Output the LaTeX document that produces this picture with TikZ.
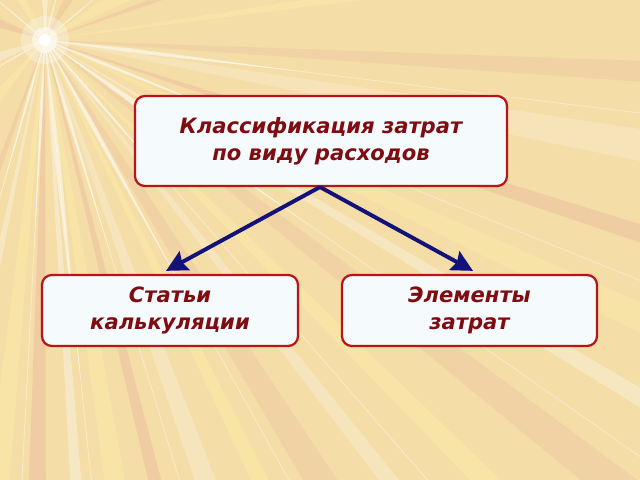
\documentclass[tikz,border=0pt]{standalone}
\usepackage{fontspec}
\setmainfont{DejaVu Sans}
\usetikzlibrary{arrows.meta}
\definecolor{bgsand}{HTML}{F4DDA6}
\definecolor{boxred}{HTML}{B8141A}
\definecolor{textred}{HTML}{7E0C10}
\definecolor{boxfill}{HTML}{F5FAFC}
\definecolor{arrownavy}{HTML}{12127A}
\definecolor{raypink}{HTML}{E6A89C}
\definecolor{rayyellow}{HTML}{FFF0A8}
\begin{document}
\begin{tikzpicture}[x=0.025cm,y=-0.025cm]
        \tikzstyle{every node}=[font=\bfseries\itshape\fontsize{15}{19.5}\selectfont, text=textred, align=center]
        \tikzstyle{block}=[draw=boxred, line width=1.6pt, fill=boxfill, rounded corners=7pt, inner sep=0pt]
        \tikzstyle{link}=[draw=arrownavy, line width=2.8pt, -{Stealth[length=15pt,width=15pt,inset=2pt]}]
        \fill[bgsand] (0,0) rectangle (640,480);
        \clip (0,0) rectangle (640,480);
        % rays from the flare
        \begin{scope}[shift={(45,40)}]
        \foreach \a/\w/\c/\o in {-20/1.2/raypink/0.25, -8/0.8/rayyellow/0.4, 3/1.0/raypink/0.2, 10/1.5/white/0.2,
            18/0.8/raypink/0.3, 25/1.2/rayyellow/0.35, 31/0.7/white/0.3, 38/1.4/raypink/0.2, 45/1.0/rayyellow/0.4,
            52/0.8/white/0.25, 58/1.6/raypink/0.2, 64/0.9/rayyellow/0.45, 70/1.2/white/0.25, 76/0.8/raypink/0.3,
            81/1.3/rayyellow/0.4, 86/0.7/white/0.35, 91/1.1/raypink/0.3, 96/1.4/rayyellow/0.4, 102/0.8/white/0.3,
            110/1.2/raypink/0.25, 130/4/rayyellow/0.4, 160/5/white/0.3, 200/5/raypink/0.3, 240/5/rayyellow/0.4,
            270/4/white/0.4, 300/5/raypink/0.25, 330/5/rayyellow/0.4}
            \fill[\c, opacity=\o] (0,0) -- (\a-\w:1500) -- (\a+\w:1500) -- cycle;
        \foreach \a/\r in {7/260,22/200,35/320,49/180,61/280,73/220,84/340,93/200,106/160,150/90,220/90,285/80,320/90}
            \fill[white, opacity=0.5] (0,0) -- (\a-1.5:\r/3) -- (\a:\r) -- (\a+1.5:\r/3) -- cycle;
        \foreach \a in {7,22,35,49,61,73,84,93,106}
            \draw[white, opacity=0.4, line width=0.6pt] (0,0) -- (\a:1500);
        \fill[white, opacity=0.3] (0,0) circle (24);
        \fill[white, opacity=0.55] (0,0) circle (13);
        \fill[white] (0,0) circle (6);
        \end{scope}
        % boxes
        \node[block, minimum width=372*0.025cm, minimum height=90*0.025cm] (top) at (321,141) {Классификация затрат\\по виду расходов};
        \node[block, minimum width=256*0.025cm, minimum height=71*0.025cm] (left) at (170,310.5) {Статьи\\калькуляции};
        \node[block, minimum width=255*0.025cm, minimum height=71*0.025cm] (right) at (469.5,310.5) {Элементы\\затрат};
        \coordinate (split) at (320,187);
        \draw[link] (split) -- ([xshift=-4*0.025cm,yshift=3*0.025cm]left.north);
        \draw[link] (split) -- ([xshift=3.5*0.025cm,yshift=3*0.025cm]right.north);
    \end{tikzpicture}
\end{document}
